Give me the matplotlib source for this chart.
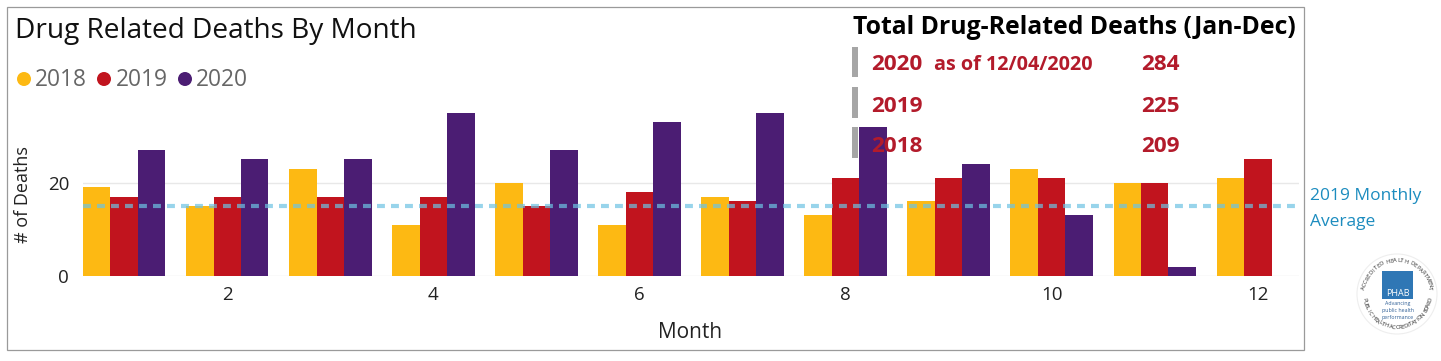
import matplotlib
matplotlib.use("Agg")
import math
import matplotlib.pyplot as plt
import matplotlib.patches as mpatches
import numpy as np

_W, _H = 1441, 361
_YEAR_COLORS = ["#FDB913", "#C1141E", "#4B1D73"]
_TITLE_RED = "#B31B2B"
_GREY = "#A6A6A6"
_FONT = "Open Sans"

plt.rcParams["font.family"] = [_FONT, "DejaVu Sans"]

months = list(range(1, 13))
deaths_2018 = [19, 15, 23, 11, 20, 11, 17, 13, 16, 23, 20, 21]
deaths_2019 = [17, 17, 17, 17, 15, 18, 16, 21, 21, 21, 20, 25]
deaths_2020 = [27, 25, 25, 35, 27, 33, 35, 32, 24, 13, 2, 0]
years = ["2018", "2019", "2020"]
monthly_avg_2019 = 15
month_ticks = [2, 4, 6, 8, 10, 12]
death_ticks = [0, 20]
totals_labels = ["2020", "2019", "2018"]
totals_values = ["284", "225", "209"]

fig = plt.figure(figsize=(_W / 100, _H / 100), dpi=100, facecolor="white")

# Pixel-coordinate layer behind the chart: frame and grey KPI bars
back = fig.add_axes([0, 0, 1, 1], zorder=0)
back.set_xlim(0, _W)
back.set_ylim(_H, 0)
back.axis("off")
back.add_patch(mpatches.Rectangle((6.5, 6.5), 1297, 343, fc="white", ec="#9A9A9A", lw=0.9))
for top, bottom in [(47, 77), (87, 118), (127, 158)]:
    back.add_patch(mpatches.Rectangle((852, top), 6, bottom - top, fc=_GREY, ec="none"))

# Chart
ax = fig.add_axes([83 / _W, (_H - 276) / _H, 1216 / _W, 176 / _H], zorder=1)
ax.patch.set_alpha(0)
x = np.array(months)
bar_w = 0.8 / 3
for i, vals in enumerate([deaths_2018, deaths_2019, deaths_2020]):
    ax.bar(x + (i - 1) * bar_w, vals, bar_w, color=_YEAR_COLORS[i], zorder=2)
ax.axhline(monthly_avg_2019, color="#6CC3E3", alpha=0.7, lw=3.0,
           dashes=(1.9, 1.46), zorder=3)
ax.set_xlim(0.6, 12.4)
ax.set_ylim(0, 176 / 4.67)
ax.set_xticks(month_ticks)
ax.set_yticks(death_ticks)
ax.tick_params(length=0, labelsize=13.5, labelcolor="#222222")
ax.tick_params(axis="x", pad=7)
ax.tick_params(axis="y", pad=10)
ax.grid(axis="y", color="#E8E8E8", lw=1, zorder=0)
ax.set_axisbelow(True)
for sp in ax.spines.values():
    sp.set_visible(False)

# Pixel-coordinate layer above the chart: all the text
top = fig.add_axes([0, 0, 1, 1], zorder=2)
top.set_xlim(0, _W)
top.set_ylim(_H, 0)
top.axis("off")
top.patch.set_alpha(0)

top.text(15, 31, "Drug Related Deaths By Month", fontsize=20.2, color="#111111", va="center")
top.text(690, 333, "Month", fontsize=15, color="#222222", ha="center", va="center")
top.text(23, 195, "# of Deaths", fontsize=13, color="#222222", rotation=90, ha="center", va="center")

for yr, color, cx, tx in zip(years, _YEAR_COLORS, [24, 104, 185], [35, 116, 196]):
    top.add_patch(mpatches.Ellipse((cx, 79), 14, 14, fc=color, ec="none"))
    top.text(tx, 80, yr, fontsize=16.4, color="#666666", va="center")

top.text(853, 28, "Total Drug-Related Deaths (Jan-Dec)", fontsize=17.8, fontweight="bold",
         color="black", va="center")
for lbl, val, y in zip(totals_labels, totals_values, [65, 106, 146]):
    top.text(871, y, lbl, fontsize=16.2, fontweight="bold", color=_TITLE_RED, va="center")
    top.text(1141, y, val, fontsize=16.2, fontweight="bold", color=_TITLE_RED, va="center")
top.text(934, 65, "as of 12/04/2020", fontsize=14.2, fontweight="bold", color=_TITLE_RED, va="center")

top.text(1310, 196, "2019 Monthly", fontsize=12.5, color="#1C8CBF", va="center")
top.text(1310, 222, "Average", fontsize=12.5, color="#1C8CBF", va="center")

# PHAB seal
cx, cy, r = 1397, 294, 38
top.add_patch(mpatches.Circle((cx, cy), r + 2, fc="white", ec="#EEEEEE", lw=0.8))
top.add_patch(mpatches.Rectangle((cx - 15, cy - 23), 31, 28, fc="#2F77B5", ec="none"))
top.text(cx + 0.5, cy, "PHAB", fontsize=6.5, color="white", ha="center", va="center")
for i, line in enumerate(["Advancing", "public health", "performance"]):
    top.text(cx + 0.5, cy + 10 + i * 6.5, line, fontsize=3.8, color="#2F5F96", ha="center", va="center")


def arc_text(s, start, end, flip):
    # one rotated letter per step round the seal
    for ch, ang in zip(s, np.linspace(start, end, len(s))):
        a = math.radians(ang)
        rot = ang - 90 if not flip else ang + 90
        top.text(cx + r * 0.88 * math.cos(a), cy - r * 0.88 * math.sin(a), ch, fontsize=4.2,
                 color="#333333", rotation=rot, ha="center", va="center")


arc_text("ACCREDITED HEALTH DEPARTMENT", 170, 10, False)
arc_text("PUBLIC HEALTH ACCREDITATION BOARD", 190, 350, True)

fig.savefig("out.png", dpi=100, facecolor="white")
